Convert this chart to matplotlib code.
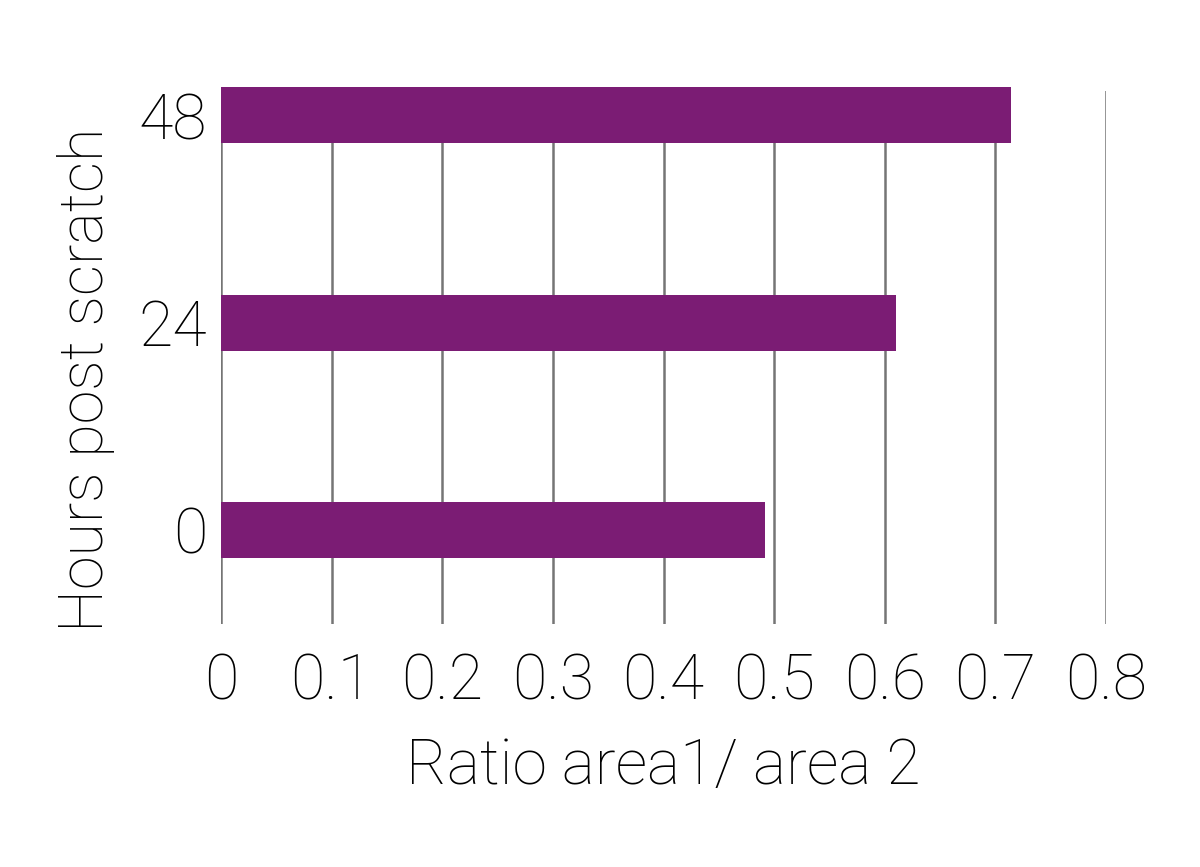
import matplotlib
matplotlib.use("Agg")
import matplotlib.pyplot as plt

categories = ["0", "24", "48"]
values = [0.492, 0.610, 0.714]
xticks = [0, 0.1, 0.2, 0.3, 0.4, 0.5, 0.6, 0.7, 0.8]
xticklabels = ["0", "0.1", "0.2", "0.3", "0.4", "0.5", "0.6", "0.7", "0.8"]

plt.rcParams['font.family'] = ['Roboto', 'DejaVu Sans']
plt.rcParams['font.weight'] = 'light'

fig = plt.figure(figsize=(12, 8.67), dpi=100)
ax = fig.add_axes([221/1200, 1-624/867, (1106-221)/1200, (624-91)/867])

ypos = list(range(len(categories)))
bars = ax.barh(ypos, values, height=0.27, color="#7B1C74", zorder=3)
for b in bars:
    b.set_clip_on(False)

ax.set_xlim(0, 0.8)
ax.set_ylim(-0.454, 2.118)
ax.set_xticks(xticks)
ax.set_xticklabels(xticklabels)
ax.set_yticks(ypos)
ax.set_yticklabels(categories)
ax.grid(axis='x', color="#757575", linewidth=1.8, zorder=0)
ax.grid(axis='y', visible=False)
for s in ax.spines.values():
    s.set_visible(False)
ax.tick_params(axis='both', length=0, labelsize=45, colors='black')
ax.tick_params(axis='x', pad=20)
ax.tick_params(axis='y', pad=10)

ax.set_xlabel("Ratio area1/ area 2", fontsize=45, fontweight='light')
ax.set_ylabel("Hours post scratch", fontsize=44, fontweight='light')
ax.xaxis.set_label_coords((663 - 221) / 885, (624 - 737) / 533)
ax.yaxis.set_label_coords((115 - 221) / 885, (624 - 380) / 533)

fig.savefig("out.png", dpi=100, facecolor="white")
